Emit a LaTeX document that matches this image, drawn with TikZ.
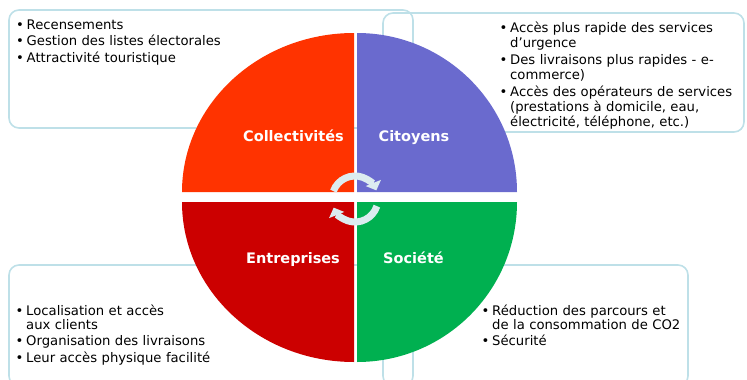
\documentclass[tikz,border=0pt]{standalone}
\usepackage{fontspec}
\setmainfont{DejaVu Sans}
\usetikzlibrary{arrows.meta}
\definecolor{panelblue}{RGB}{190,224,232}
\definecolor{collred}{RGB}{255,51,0}
\definecolor{citblue}{RGB}{106,106,206}
\definecolor{entred}{RGB}{204,0,0}
\definecolor{socgreen}{RGB}{0,176,80}
\definecolor{cyclegrey}{RGB}{220,236,240}
\newcommand\firstbul{\hangindent=10.5pt\hangafter=1\makebox[10.5pt][l]{•}}
\newcommand\bul{\par\parskip=2.5pt\noindent\firstbul}
\tikzset{
  panel/.style={draw=panelblue,line width=1.6pt,rounded corners=10pt},
  sector label/.style={text=white,font=\bfseries\fontsize{14.5}{16}\selectfont,anchor=base},
  bullets/.style={anchor=base west,inner sep=0pt,text width=#1,font=\fontsize{13.2}{14}\selectfont},
  cycle arrow/.style={draw=cyclegrey,line width=7pt,-{Triangle[length=8pt,width=16pt]}},
}
\begin{document}
\begin{tikzpicture}[x=1pt,y=-1pt]
\useasboundingbox (0,0) rectangle (747,380);
\def\xl{354} \def\xr{357} \def\yt{192} \def\yb{202}
% panels behind the disc
\draw[panel] (9,10) rectangle (413,128);
\draw[panel] (383,13) rectangle (744,132);
\draw[panel] (9,265) rectangle (413,386);
\draw[panel] (383,265) rectangle (688,386);
% four quarters
\fill[collred] (\xl,\yt) -- (182,\yt) arc[start angle=180,end angle=270,x radius=172,y radius=159] -- cycle;
\fill[citblue] (\xr,\yt) -- (\xr,33) arc[start angle=270,end angle=360,x radius=160,y radius=159] -- cycle;
\fill[socgreen] (\xr,\yb) -- (517,\yb) arc[start angle=0,end angle=90,x radius=160,y radius=160] -- cycle;
\fill[entred] (\xl,\yb) -- (\xl,362) arc[start angle=90,end angle=180,x radius=172,y radius=160] -- cycle;
\node[sector label] (coll) at (293.5,141) {Collectivités};
\node[sector label] (cit) at (414,141) {Citoyens};
\node[sector label] (ent) at (293,263) {Entreprises};
\node[sector label] (soc) at (413.5,263) {Société};
% cycle in the middle
\coordinate (hub) at (355,199);
\draw[cycle arrow] (hub) ++(-160:23) arc[start angle=-160,end angle=-22,radius=23];
\draw[cycle arrow] (hub) ++(18:23) arc[start angle=18,end angle=158,radius=23];
% lists
\node[bullets=240pt] (collList) at (16,29.3) {\firstbul Recensements\bul Gestion des listes électorales\bul Attractivité touristique\par};
\node[bullets=240pt,font=\fontsize{13.2}{14.8}\selectfont] (citList) at (499.5,32.5) {\firstbul Accès plus rapide des services\newline d’urgence\bul Des livraisons plus rapides - e-\newline commerce)\bul Accès des opérateurs de services\newline (prestations à domicile, eau,\newline électricité, téléphone, etc.)\par};
\node[bullets=240pt] (entList) at (15.5,315) {\firstbul Localisation et accès\newline aux clients\bul Organisation des livraisons\bul Leur accès physique facilité\par};
\node[bullets=240pt] (socList) at (481.5,315) {\firstbul Réduction des parcours et\newline de la consommation de CO2\bul Sécurité\par};
\end{tikzpicture}
\end{document}
